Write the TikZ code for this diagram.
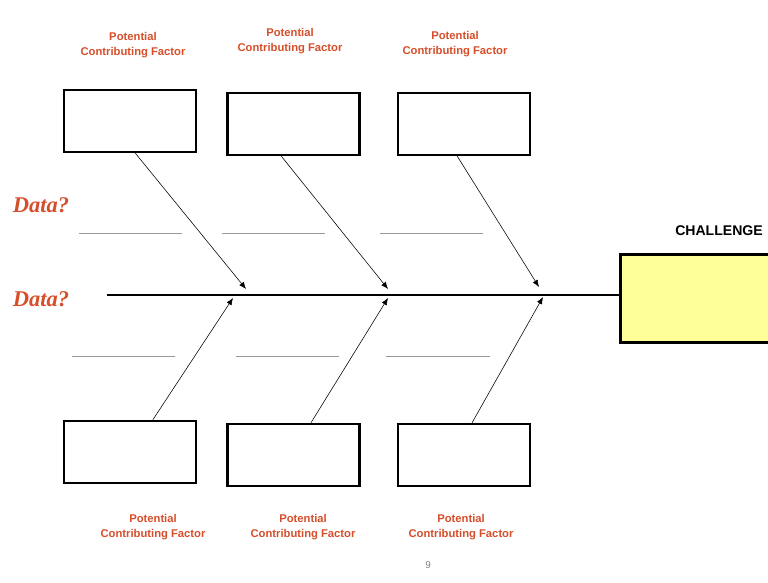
\documentclass[tikz,border=0pt]{standalone}
\usepackage{fontspec}
\setmainfont{Liberation Serif}
\setsansfont{Liberation Sans}
\usetikzlibrary{calc,arrows.meta}
\definecolor{rouille}{RGB}{214,78,42}
\definecolor{paille}{RGB}{255,255,153}

\begin{document}
\begin{tikzpicture}[x=0.025cm,y=-0.025cm,
  cadre/.style={draw, line width=1.8pt, minimum width=3.3cm, minimum height=1.55cm, inner sep=0pt},
  facteur/.style={text=rouille, font=\sffamily\bfseries\fontsize{8}{10.6}\selectfont, align=center},
  donnee/.style={text=rouille, font=\rmfamily\bfseries\itshape\fontsize{16}{18}\selectfont, anchor=west},
  arete/.style={-{Latex[length=5pt,width=4pt]}, thin},
  trait/.style={gray!80, thin}]
\useasboundingbox (0,0) rectangle (768,583);

% boites du haut
\node [cadre] (h1) at (130,121) {};
\node [cadre] (h2) at (293.5,124) {};
\node [cadre] (h3) at (464,124) {};
\node [facteur] (lh1) at (133,45) {Potential\\Contributing Factor};
\node [facteur] (lh2) at (290,41) {Potential\\Contributing Factor};
\node [facteur] (lh3) at (455,44) {Potential\\Contributing Factor};

% boites du bas
\node [cadre] (b1) at (130,452) {};
\node [cadre] (b2) at (293.5,455) {};
\node [cadre] (b3) at (464,455) {};
\node [facteur] (lb1) at (153,527) {Potential\\Contributing Factor};
\node [facteur] (lb2) at (303,527) {Potential\\Contributing Factor};
\node [facteur] (lb3) at (461,527) {Potential\\Contributing Factor};

% probleme
\node [draw, line width=1.8pt, fill=paille, anchor=west, minimum width=4cm, minimum height=2.2cm] (pb) at (619,298.5) {};
\node [font=\sffamily\bfseries\fontsize{10}{12}\selectfont] (titre) at (719,231) {CHALLENGE};

% arete centrale
\coordinate (queue) at (107,295);
\draw [line width=1.4pt] (queue) -- (queue -| pb.west);

\coordinate (p1) at (246,289);
\coordinate (p2) at (388,289);
\coordinate (p3) at (539,287);
\coordinate (q1) at (233,298);
\coordinate (q2) at (388,298);
\coordinate (q3) at (543,297);

\draw [arete] ($(h1.south west)!0.54!(h1.south east)$) -- (p1);
\draw [arete] ($(h2.south west)!0.41!(h2.south east)$) -- (p2);
\draw [arete] ($(h3.south west)!0.45!(h3.south east)$) -- (p3);
\draw [arete] ($(b1.north west)!0.67!(b1.north east)$) -- (q1);
\draw [arete] ($(b2.north west)!0.63!(b2.north east)$) -- (q2);
\draw [arete] ($(b3.north west)!0.56!(b3.north east)$) -- (q3);

% donnees
\node [donnee] (d1) at (8,205) {Data?};
\node [donnee] (d2) at (8,299) {Data?};
\draw [trait] (79,233) -- (182,233);
\draw [trait] (222,233) -- (325,233);
\draw [trait] (380,233) -- (483,233);
\draw [trait] (72,356) -- (175,356);
\draw [trait] (236,356) -- (339,356);
\draw [trait] (386,356) -- (490,356);

\node [gray, font=\sffamily\fontsize{7}{8}\selectfont] (page) at (428,565) {9};
\end{tikzpicture}
\end{document}
